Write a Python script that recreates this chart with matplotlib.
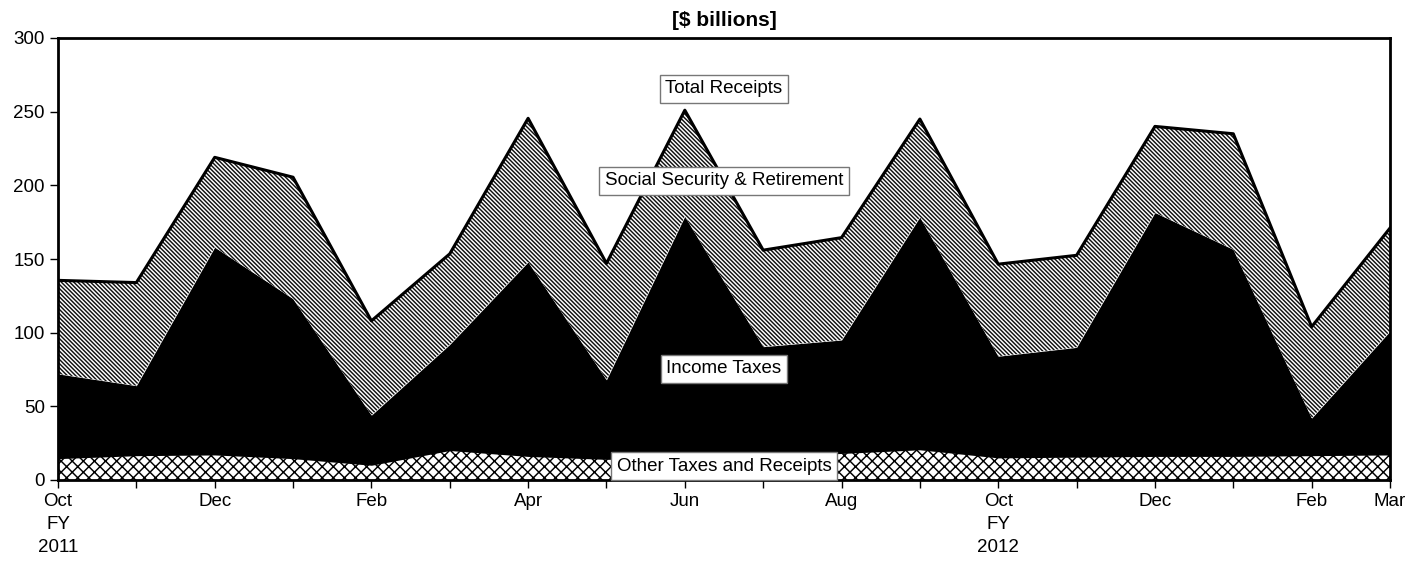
import matplotlib
matplotlib.use("Agg")
import matplotlib.pyplot as plt
import numpy as np

plt.rcParams['font.family'] = ['Liberation Sans', 'DejaVu Sans']
plt.rcParams['hatch.linewidth'] = 1.05

months = ["Oct\nFY\n2011", "Nov", "Dec", "Jan", "Feb", "Mar", "Apr", "May", "Jun",
          "Jul", "Aug", "Sep", "Oct\nFY\n2012", "Nov", "Dec", "Jan", "Feb", "Mar"]
shown_labels = [0, 2, 4, 6, 8, 10, 12, 14, 16, 17]

other_taxes = [14.5, 16.5, 17, 14.5, 10, 20, 16, 14, 15, 16, 18, 20.5, 15, 15.5, 16, 16, 16.5, 17]
income_top = [72, 64, 158, 123, 44, 92, 148, 68, 179, 90.5, 95, 178.5, 84, 90, 181.5, 156.5, 42, 101]
total_receipts = [135.5, 134, 219, 205.5, 108, 153.5, 245.5, 147, 251, 156, 164.5, 245, 146.5, 152.5, 240, 235, 104, 171]

other = np.array(other_taxes)
income = np.array(income_top) - other
social = np.array(total_receipts) - np.array(income_top)
x = np.arange(len(months))

fig = plt.figure(figsize=(14.26, 5.61), dpi=100)
ax = fig.add_axes([58/1426, 1-480/561, (1390-58)/1426, (480-38)/561])

s1 = other
s2 = other + income
s3 = s2 + social
ax.fill_between(x, 0, s1, facecolor='white', edgecolor='black', hatch='xxx', linewidth=0, zorder=2)
ax.fill_between(x, s1, s2, facecolor='black', edgecolor='black', linewidth=0, zorder=2)
ax.fill_between(x, s2, s3, facecolor='white', edgecolor='#111111', hatch='\\' * 8, linewidth=0, zorder=2)
ax.plot(x, s3, color='black', lw=2.2, zorder=3)

ax.set_xlim(0, len(months)-1)
ax.set_ylim(0, 300)
ax.set_yticks(range(0, 301, 50))
ax.set_xticks(x)
ax.set_xticklabels([m if i in shown_labels else "" for i, m in enumerate(months)], linespacing=1.45)
ax.tick_params(axis='both', direction='out', length=5.5, width=1, labelsize=13.5, color='black')
ax.tick_params(axis='x', pad=4)
ax.tick_params(axis='y', pad=4)
for sp in ax.spines.values():
    sp.set_linewidth(2)
    sp.set_zorder(4)

ax.set_title("[$ billions]", fontsize=15, fontweight='bold', pad=9)

bbox = dict(facecolor='white', edgecolor='#777777', boxstyle='square,pad=0.3', lw=1)
xc = 8.5
fs = 13.5
ax.text(xc, 265.5, "Total Receipts", ha='center', va='center', fontsize=fs, bbox=bbox, zorder=6)
ax.text(xc, 203, "Social Security & Retirement", ha='center', va='center', fontsize=fs, bbox=bbox, zorder=6)
ax.text(xc, 75.5, "Income Taxes", ha='center', va='center', fontsize=fs, bbox=bbox, zorder=6)
ax.text(xc, 9.5, "Other Taxes and Receipts", ha='center', va='center', fontsize=fs, bbox=bbox, zorder=6, clip_on=False)

fig.savefig("out.png", dpi=100)
